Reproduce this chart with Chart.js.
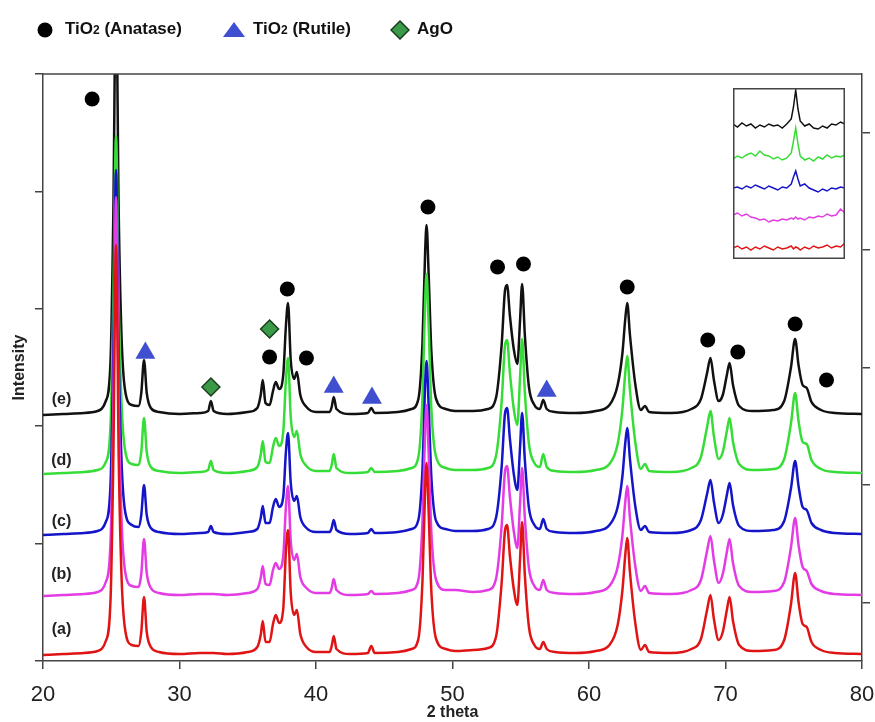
<!DOCTYPE html>
<html>
<head>
<meta charset="utf-8">
<script src="https://cdn.jsdelivr.net/npm/chart.js@4.4.1/dist/chart.umd.min.js"></script>
<style>
  html, body { margin: 0; padding: 0; background: #fff; }
  #wrap { position: relative; width: 875px; height: 722px; font-family: "Liberation Sans", Arial, sans-serif; }
  #main { position: absolute; left: 0; top: 0; }
  #inset { position: absolute; left: 733px; top: 88px; }
  .leg { position: absolute; top: 17px; height: 24px; line-height: 24px; font-size: 17px; font-weight: bold; color: #111; white-space: nowrap; }
  .leg sub { font-size: 12px; vertical-align: baseline; }
  .mark { position: absolute; }
</style>
</head>
<body>
<div id="wrap">
  <canvas id="main" width="875" height="722"></canvas>
  <canvas id="inset" width="112" height="171"></canvas>

  <svg class="mark" style="left:37px;top:22px" width="16" height="16"><circle cx="8" cy="8" r="7.5" fill="#000"/></svg>
  <div class="leg" style="left:65px">TiO<sub>2</sub> (Anatase)</div>
  <svg class="mark" style="left:223px;top:22px" width="22" height="15"><polygon points="11,0 22,15 0,15" fill="#3f4fcf"/></svg>
  <div class="leg" style="left:253px">TiO<sub>2</sub> (Rutile)</div>
  <svg class="mark" style="left:390px;top:20px" width="20" height="20"><polygon points="10,1 19,10 10,19 1,10" fill="#3a9a48" stroke="#1c3d20" stroke-width="1.5"/></svg>
  <div class="leg" style="left:417px">AgO</div>
</div>

<script>
// XRD data, intensity in plot units (axis 0..587), peaks above each baseline
const twoTheta = [20, 21.5, 23, 24, 24.6, 24.95, 25.15, 25.35, 25.55, 25.75,
  26, 26.5, 27, 27.2, 27.4, 27.6, 27.9, 28.5, 30, 31.5,
  32.1, 32.3, 32.5, 33.5, 35, 35.7, 35.95, 36.1, 36.3, 36.6,
  36.85, 37.05, 37.3, 37.6, 37.8, 37.95, 38.15, 38.4, 38.6, 38.85,
  39.3, 40, 41, 41.15, 41.3, 41.5, 42.5, 43.8, 44.05, 44.3,
  46, 47, 47.5, 47.8, 48, 48.1, 48.25, 48.45, 48.8, 49.5,
  50.2, 51.5, 52.6, 53.2, 53.6, 53.85, 54, 54.2, 54.5, 54.75,
  54.95, 55.1, 55.3, 55.6, 56, 56.4, 56.65, 56.9, 57.5, 59,
  60.5, 61.5, 62.1, 62.45, 62.65, 62.8, 63, 63.4, 63.8, 64.1,
  64.4, 66, 67.5, 68.2, 68.65, 68.9, 69.15, 69.5, 69.8, 70.1,
  70.3, 70.55, 71, 72, 73.5, 74.3, 74.8, 75.1, 75.35, 75.65,
  75.95, 76.3, 77, 78, 80];

const sampleA = [0, 1, 2, 4, 14, 56, 195, 410, 195, 80,
  27, 10, 9, 23, 58, 23, 8, 3, 1, 2,
  2, 2, 2, 1, 3, 8, 20, 34, 13, 13,
  31, 40, 32, 46, 105, 125, 62, 40, 45, 21,
  8, 3, 3, 9, 19, 6, 1, 2, 9, 2,
  3, 6, 16, 74, 168, 192, 144, 64, 16, 6,
  4, 5, 7, 19, 72, 125, 130, 100, 65, 50,
  96, 133, 80, 28, 10, 6, 13, 6, 3, 2,
  4, 10, 30, 65, 99, 117, 83, 31, 5, 10,
  3, 2, 6, 16, 45, 60, 36, 15, 23, 45,
  58, 34, 10, 4, 5, 15, 51, 82, 53, 31,
  28, 13, 5, 2, 1];

const sampleB = [0, 1, 2, 4, 14, 55, 190, 399, 190, 78,
  26, 10, 9, 22, 57, 23, 8, 3, 1, 2,
  2, 2, 2, 1, 3, 7, 18, 30, 12, 11,
  26, 33, 27, 40, 90, 110, 55, 36, 42, 19,
  8, 3, 3, 8, 17, 6, 1, 2, 5, 2,
  3, 6, 16, 74, 168, 191, 144, 64, 16, 6,
  6, 4, 6, 18, 70, 125, 130, 100, 64, 48,
  93, 128, 78, 28, 10, 6, 16, 6, 3, 2,
  4, 10, 29, 61, 93, 110, 78, 29, 5, 10,
  3, 2, 6, 16, 45, 60, 36, 13, 22, 44,
  57, 33, 10, 4, 5, 14, 49, 78, 51, 29,
  25, 12, 5, 2, 1];

const sampleC = [0, 1, 2, 4, 13, 52, 180, 365, 180, 75,
  25, 10, 8, 20, 50, 20, 7, 3, 1, 2,
  3, 9, 3, 1, 3, 6, 17, 29, 12, 12,
  28, 36, 28, 38, 84, 102, 52, 34, 39, 18,
  7, 3, 3, 7, 15, 5, 1, 2, 6, 2,
  3, 6, 15, 66, 152, 174, 130, 58, 14, 6,
  4, 4, 6, 18, 68, 122, 127, 97, 60, 45,
  88, 122, 75, 27, 10, 6, 16, 6, 3, 2,
  4, 10, 28, 59, 91, 107, 76, 28, 5, 9,
  3, 2, 5, 15, 41, 55, 33, 12, 20, 40,
  52, 30, 9, 4, 5, 14, 47, 74, 49, 28,
  25, 12, 5, 2, 1];

const sampleD = [0, 1, 2, 4, 12, 50, 170, 338, 170, 72,
  25, 10, 9, 22, 56, 22, 7, 3, 1, 2,
  4, 13, 4, 1, 3, 7, 19, 33, 12, 11,
  27, 36, 28, 42, 95, 116, 57, 37, 43, 20,
  8, 3, 3, 9, 20, 6, 1, 2, 6, 2,
  3, 6, 17, 76, 175, 200, 150, 66, 17, 6,
  4, 4, 6, 19, 72, 129, 134, 102, 64, 49,
  97, 135, 82, 30, 11, 7, 20, 7, 3, 2,
  4, 10, 30, 65, 100, 118, 84, 31, 5, 10,
  3, 2, 6, 17, 47, 63, 38, 15, 22, 43,
  56, 32, 10, 4, 5, 15, 51, 81, 53, 32,
  30, 14, 5, 2, 1];

const sampleE = [0, 1, 2, 4, 14, 55, 200, 430, 200, 80,
  26, 10, 9, 22, 55, 22, 7, 3, 1, 2,
  4, 14, 4, 1, 3, 7, 20, 35, 12, 10,
  24, 33, 26, 40, 90, 112, 55, 36, 43, 20,
  8, 3, 3, 8, 18, 6, 1, 2, 7, 2,
  3, 6, 16, 72, 165, 190, 142, 64, 16, 6,
  4, 4, 6, 18, 70, 125, 130, 100, 65, 51,
  95, 131, 80, 28, 10, 6, 15, 6, 3, 2,
  4, 10, 30, 62, 95, 112, 80, 30, 5, 9,
  3, 2, 6, 16, 42, 57, 35, 14, 20, 40,
  52, 30, 9, 4, 5, 14, 48, 76, 50, 30,
  27, 13, 5, 2, 1];

const offsets = [6, 65, 126, 187, 246];
const sampleLabels = ['(a)', '(b)', '(c)', '(d)', '(e)'];
const labelY = [31, 86, 139, 200, 261];

// peak markers (2theta, intensity)
const anataseMarks = [[23.6, 562], [36.6, 304], [37.9, 372], [39.3, 303], [48.2, 454], [53.3, 394],
  [55.2, 397], [62.8, 374], [68.7, 321], [70.9, 309], [75.1, 337], [77.4, 281]];
const rutileMarks = [[27.5, 308], [41.3, 274], [44.1, 263], [56.9, 270]];
const agoMarks = [[32.3, 274], [36.6, 332]];

const leftTicks = [0, 117.4, 234.8, 352.2, 469.6, 587];
const rightTicks = [58.7, 176.1, 293.5, 410.9, 528.3];

// inset: AgO region, zoomed
const insetTheta = [30.9, 31.0, 31.1, 31.2, 31.3, 31.4, 31.5, 31.6, 31.7, 31.8, 31.9, 32.0, 32.1, 32.2,
  32.25, 32.3, 32.35, 32.4, 32.5, 32.6, 32.7, 32.8, 32.9, 33.0, 33.1, 33.2, 33.3, 33.4];
const insetA = [11, 13, 10, 12, 9, 12, 10, 13, 11, 9, 12, 10, 11, 13, 10, 12, 11, 9, 12, 10, 13, 11, 12, 14, 11, 13, 12, 16];
const insetB = [44, 46, 43, 45, 42, 41, 39, 40, 37, 39, 38, 40, 39, 41, 40, 42, 40, 41, 39, 42, 41, 43, 42, 45, 43, 44, 50, 46];
const insetC = [71, 72, 70, 73, 71, 74, 72, 70, 73, 71, 69, 72, 71, 75, 82, 88, 80, 73, 75, 71, 69, 67, 70, 68, 71, 70, 72, 71];
const insetD = [100, 103, 101, 104, 106, 103, 108, 104, 103, 100, 102, 99, 101, 106, 118, 131, 115, 103, 99, 101, 98, 102, 100, 104, 101, 103, 102, 104];
const insetE = [135, 132, 136, 133, 135, 131, 134, 132, 135, 133, 134, 131, 135, 140, 152, 169, 150, 138, 133, 135, 131, 130, 133, 131, 135, 134, 137, 135];

const colors = ['#e01414', '#e43ce4', '#1414c8', '#36dd36', '#111111'];
const FONT = '"Liberation Sans", Arial, sans-serif';
Chart.defaults.font.family = FONT;

function pts(arr) { return arr.map(p => ({ x: p[0], y: p[1] })); }

const traces = [sampleA, sampleB, sampleC, sampleD, sampleE];
const lineSets = traces.map((t, i) => ({
    label: sampleLabels[i],
    data: twoTheta.map((x, j) => ({ x: x, y: t[j] + offsets[i] })),
    borderColor: colors[i],
    borderWidth: 2.5,
    pointRadius: 0,
    cubicInterpolationMode: 'monotone',
    tension: 0.4,
    order: i + 1
}));

const markSets = [
    { data: pts(anataseMarks), pointStyle: 'circle', pointRadius: 7.5, backgroundColor: '#000', borderWidth: 0 },
    { data: pts(rutileMarks), pointStyle: 'triangle', pointRadius: 11.5, backgroundColor: '#3f4fcf', borderWidth: 0 },
    { data: pts(agoMarks), pointStyle: 'rectRot', pointRadius: 9, backgroundColor: '#3a9a48', borderColor: '#1c3d20', borderWidth: 1.5 }
].map(d => Object.assign(d, { showLine: false, order: 0 }));

const framePlugin = {
    id: 'frame',
    afterDraw(chart) {
        const { ctx, chartArea: a, scales } = chart;
        ctx.save();
        ctx.strokeStyle = '#444';
        ctx.lineWidth = 1.5;
        ctx.beginPath();
        ctx.moveTo(a.left, a.top);
        ctx.lineTo(a.right, a.top);
        ctx.stroke();
        ctx.fillStyle = '#222';
        ctx.font = 'bold 16px ' + FONT;
        ctx.textAlign = 'center';
        ctx.textBaseline = 'middle';
        sampleLabels.forEach((t, i) => {
            ctx.fillText(t, scales.x.getPixelForValue(21.35), scales.y.getPixelForValue(labelY[i]));
        });
        ctx.restore();
    }
};

const axisGrid = { drawOnChartArea: false, tickLength: 8, color: '#444', lineWidth: 1.5 };
const axisBorder = { display: true, color: '#444', width: 1.5 };

new Chart(document.getElementById('main'), {
    type: 'line',
    data: { datasets: markSets.concat(lineSets) },
    options: {
        responsive: false,
        animation: false,
        devicePixelRatio: 1,
        layout: { padding: { top: 74, left: 0, right: 0, bottom: 0 } },
        plugins: { legend: { display: false }, tooltip: { enabled: false } },
        scales: {
            x: {
                type: 'linear', min: 20, max: 80,
                ticks: { stepSize: 10, padding: 13, color: '#222', font: { size: 22 }, maxRotation: 0, autoSkip: false },
                grid: axisGrid,
                border: axisBorder,
                title: { display: true, text: '2 theta', color: '#222', font: { size: 16, weight: 'bold' }, padding: { top: 0, bottom: 0 } },
                afterFit: s => { s.height = 61; s.paddingLeft = 0; s.paddingRight = 0; }
            },
            y: {
                position: 'left', min: 0, max: 587,
                afterBuildTicks: s => { s.ticks = leftTicks.map(v => ({ value: v })); },
                ticks: { display: false },
                grid: axisGrid,
                border: axisBorder,
                title: { display: true, text: 'Intensity', color: '#222', font: { size: 16, weight: 'bold' }, padding: { top: 10, bottom: 0 } },
                afterFit: s => { s.width = 43; }
            },
            yR: {
                position: 'right', min: 0, max: 587,
                afterBuildTicks: s => { s.ticks = rightTicks.map(v => ({ value: v })); },
                ticks: { display: false },
                grid: axisGrid,
                border: axisBorder,
                afterFit: s => { s.width = 13; }
            }
        }
    },
    plugins: [framePlugin]
});

// inset chart
const insetTraces = [insetA, insetB, insetC, insetD, insetE];
const boxPlugin = {
    id: 'box',
    afterDraw(chart) {
        const ctx = chart.ctx;
        ctx.save();
        ctx.strokeStyle = '#444';
        ctx.lineWidth = 1.5;
        ctx.strokeRect(0.75, 0.75, chart.width - 1.5, chart.height - 1.5);
        ctx.restore();
    }
};

new Chart(document.getElementById('inset'), {
    type: 'line',
    data: {
        datasets: insetTraces.map((t, i) => ({
            data: insetTheta.map((x, j) => ({ x: x, y: t[j] })),
            borderColor: colors[i],
            borderWidth: 1.5,
            pointRadius: 0,
            tension: 0,
            order: i
        }))
    },
    options: {
        responsive: false,
        animation: false,
        devicePixelRatio: 1,
        layout: { padding: 0 },
        plugins: { legend: { display: false }, tooltip: { enabled: false } },
        scales: {
            x: { type: 'linear', min: 30.9, max: 33.4, display: false },
            y: { min: 0, max: 171, display: false }
        }
    },
    plugins: [boxPlugin]
});
</script>
</body>
</html>
